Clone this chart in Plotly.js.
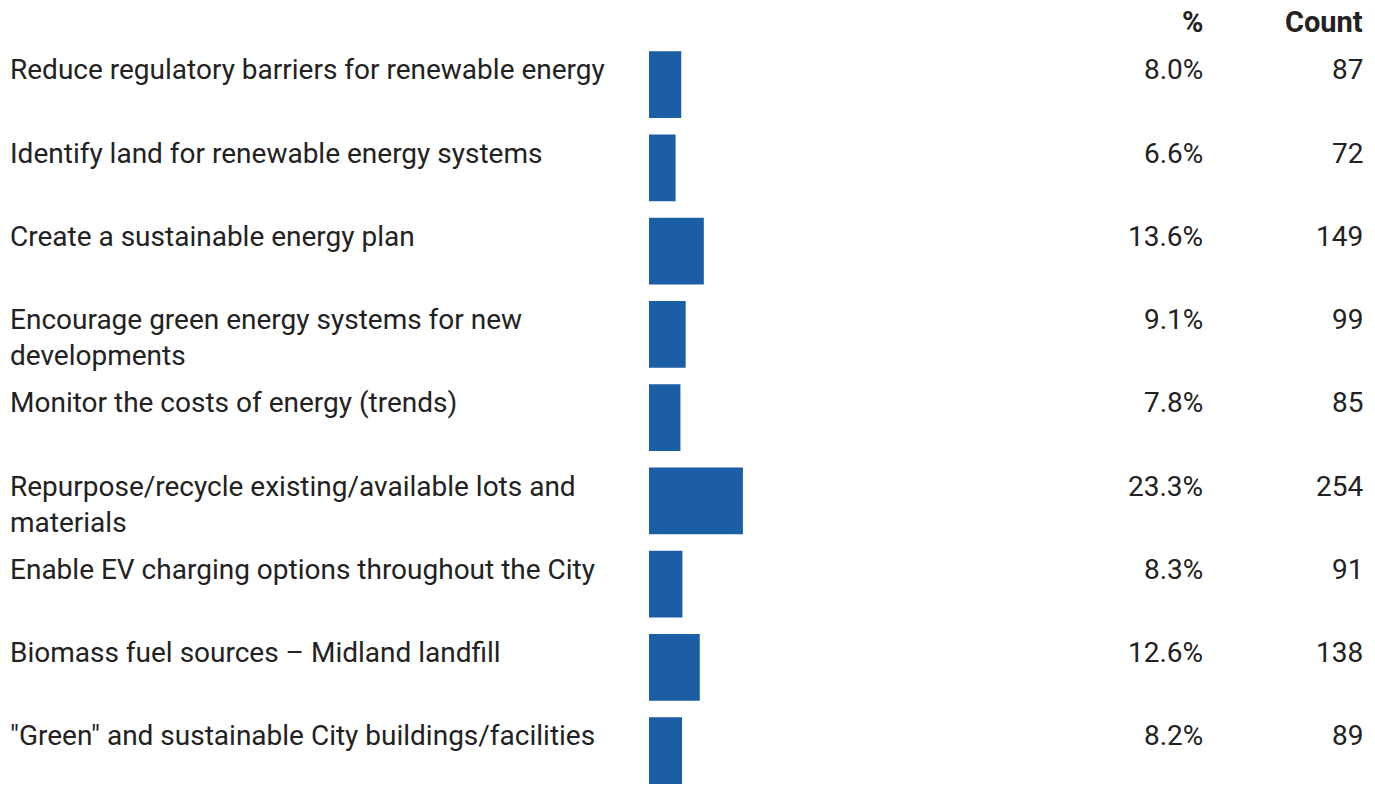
<!DOCTYPE html>
<html>
<head>
<meta charset="utf-8">
<script src="https://cdn.plot.ly/plotly-3.0.1.min.js"></script>
<style>html,body{margin:0;padding:0;background:#fff;}#chart{width:1375px;height:785px;}</style>
</head>
<body>
<div id="chart"></div>
<script>
const categories = [
  "Reduce regulatory barriers for renewable energy",
  "Identify land for renewable energy systems",
  "Create a sustainable energy plan",
  "Encourage green energy systems for new<br>developments",
  "Monitor the costs of energy (trends)",
  "Repurpose/recycle existing/available lots and<br>materials",
  "Enable EV charging options throughout the City",
  "Biomass fuel sources – Midland landfill",
  "\"Green\" and sustainable City buildings/facilities"
];
const percents = [8.0, 6.6, 13.6, 9.1, 7.8, 23.3, 8.3, 12.6, 8.2];
const counts = [87, 72, 149, 99, 85, 254, 91, 138, 89];
const headers = ["%", "Count"];

const FONT = "Roboto, 'Noto Sans', sans-serif";
const TXT = "#222222";
const FS = 28;
const idx = categories.map((_, i) => i);

const trace = {
  type: "bar",
  orientation: "h",
  x: percents,
  y: idx,
  width: 0.8,
  marker: {color: "#1B5EA5"},
  hoverinfo: "skip"
};

const annotations = [];
categories.forEach((c, i) => {
  annotations.push({xref: "paper", yref: "y", x: 8/1375, y: i - 0.4, text: c,
    xanchor: "left", yanchor: "top", align: "left", showarrow: false,
    font: {family: FONT, size: FS, color: TXT}});
  annotations.push({xref: "paper", yref: "y", x: 1205/1375, y: i - 0.4, text: percents[i].toFixed(1) + "%",
    xanchor: "right", yanchor: "top", align: "right", showarrow: false,
    font: {family: FONT, size: FS, color: TXT}});
  annotations.push({xref: "paper", yref: "y", x: 1365/1375, y: i - 0.4, text: String(counts[i]),
    xanchor: "right", yanchor: "top", align: "right", showarrow: false,
    font: {family: FONT, size: FS, color: TXT}});
});
annotations.push({xref: "paper", yref: "paper", x: 1205/1375, y: 1, yshift: 21, text: "<b>" + headers[0] + "</b>",
  xanchor: "right", yanchor: "middle", showarrow: false, font: {family: FONT, size: 29, color: TXT}});
annotations.push({xref: "paper", yref: "paper", x: 1365/1375, y: 1, yshift: 21, text: "<b>" + headers[1] + "</b>",
  xanchor: "right", yanchor: "middle", showarrow: false, font: {family: FONT, size: 29, color: TXT}});

const layout = {
  width: 1375, height: 785,
  margin: {l: 0, r: 0, t: 43, b: 0, pad: 0},
  paper_bgcolor: "#ffffff", plot_bgcolor: "#ffffff",
  showlegend: false,
  xaxis: {domain: [649/1375, 1052/1375], range: [0, 100], visible: false, fixedrange: true},
  yaxis: {range: [8.413, -0.5], visible: false, fixedrange: true},
  annotations: annotations
};

Plotly.newPlot("chart", [trace], layout, {displayModeBar: false, staticPlot: true});
</script>
</body>
</html>
